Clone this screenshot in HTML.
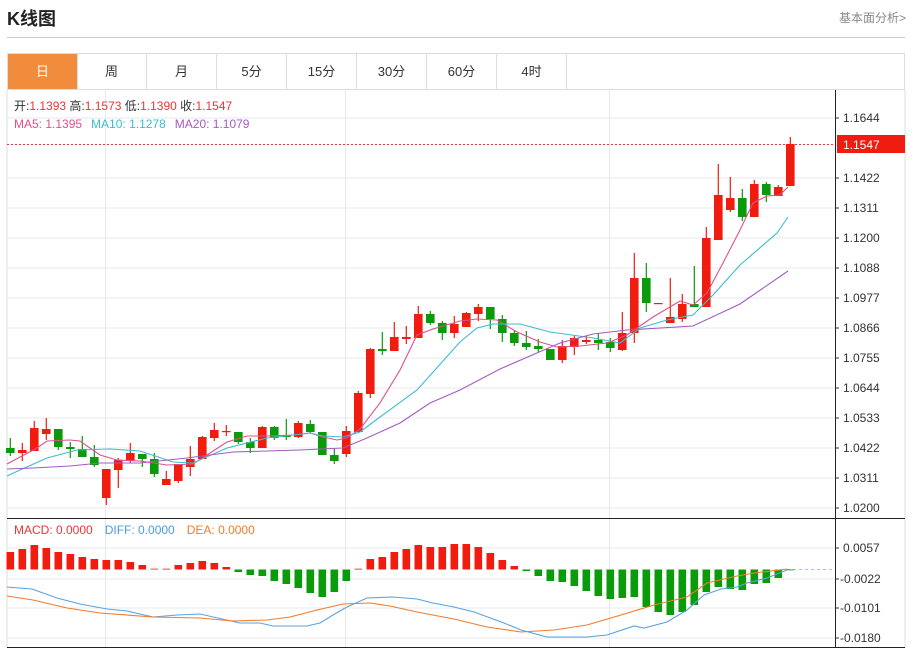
<!DOCTYPE html>
<html><head><meta charset="utf-8">
<style>
*{margin:0;padding:0;box-sizing:border-box}
body{width:914px;height:649px;background:#fff;font-family:"Liberation Sans","Noto Sans CJK SC",sans-serif;position:relative;overflow:hidden}
.t{position:absolute;left:7px;top:5px;font-size:18px;font-weight:bold;color:#222}
.more{position:absolute;right:8px;top:9px;font-size:12px;color:#888}
.hr{position:absolute;left:7px;top:37px;width:898px;height:1px;background:#ccc}
.tabs{position:absolute;left:7px;top:53px;width:898px;height:37px;border:1px solid #ddd;border-bottom:1px solid #ddd}
.tab{position:absolute;top:0;height:35px;width:70px;border-right:1px solid #ddd;text-align:center;line-height:35px;font-size:13px;color:#333}
.tab.on{background:#f08c3c;color:#fff}
svg{position:absolute;left:0;top:0}
</style></head><body>
<div class="t">K线图</div>
<div class="more">基本面分析&gt;</div>
<div class="hr"></div>
<div class="tabs">
<div class="tab on" style="left:0">日</div>
<div class="tab" style="left:69px">周</div>
<div class="tab" style="left:139px">月</div>
<div class="tab" style="left:209px">5分</div>
<div class="tab" style="left:279px">15分</div>
<div class="tab" style="left:349px">30分</div>
<div class="tab" style="left:419px">60分</div>
<div class="tab" style="left:489px">4时</div>
</div>
<svg id="s" width="914" height="649" xmlns="http://www.w3.org/2000/svg" font-family="Liberation Sans, sans-serif">
<g stroke="#e6eaee" stroke-width="1">
<line x1="7" x2="835" y1="118" y2="118"/><line x1="7" x2="835" y1="178" y2="178"/><line x1="7" x2="835" y1="208" y2="208"/><line x1="7" x2="835" y1="238" y2="238"/><line x1="7" x2="835" y1="268" y2="268"/><line x1="7" x2="835" y1="298" y2="298"/><line x1="7" x2="835" y1="328" y2="328"/><line x1="7" x2="835" y1="358" y2="358"/><line x1="7" x2="835" y1="388" y2="388"/><line x1="7" x2="835" y1="418" y2="418"/><line x1="7" x2="835" y1="448" y2="448"/><line x1="7" x2="835" y1="478" y2="478"/><line x1="7" x2="835" y1="508" y2="508"/>
<line x1="7" x2="835" y1="548" y2="548"/><line x1="7" x2="835" y1="579" y2="579"/><line x1="7" x2="835" y1="608" y2="608"/><line x1="7" x2="835" y1="638" y2="638"/>
<line x1="105.5" x2="105.5" y1="90" y2="648"/><line x1="345.5" x2="345.5" y1="90" y2="648"/><line x1="609.5" x2="609.5" y1="90" y2="648"/>
</g>
<line x1="7" x2="7" y1="90" y2="648" stroke="#ddd"/>
<line x1="905" x2="905" y1="90" y2="648" stroke="#ddd"/>
<line x1="7" x2="905" y1="518.5" y2="518.5" stroke="#222"/>
<line x1="7" x2="905" y1="647.5" y2="647.5" stroke="#222"/>
<line x1="835.5" x2="835.5" y1="90" y2="648" stroke="#222"/>
<line x1="7" x2="835" y1="144.5" y2="144.5" stroke="#e33" stroke-dasharray="2,2"/>
<line x1="787" x2="835" y1="569.5" y2="569.5" stroke="#9cc8e8" stroke-dasharray="3,3"/>
<g id="c"></g>
<g font-size="12" fill="#333">
<text x="843" y="122">1.1644</text><text x="843" y="182">1.1422</text><text x="843" y="212">1.1311</text><text x="843" y="242">1.1200</text><text x="843" y="272">1.1088</text><text x="843" y="302">1.0977</text><text x="843" y="332">1.0866</text><text x="843" y="362">1.0755</text><text x="843" y="392">1.0644</text><text x="843" y="422">1.0533</text><text x="843" y="452">1.0422</text><text x="843" y="482">1.0311</text><text x="843" y="512">1.0200</text>
<text x="843" y="552">0.0057</text><text x="840" y="583">-0.0022</text><text x="840" y="612">-0.0101</text><text x="840" y="642">-0.0180</text>
</g>
<g stroke="#333"><line x1="835" x2="839" y1="118" y2="118"/><line x1="835" x2="839" y1="178" y2="178"/><line x1="835" x2="839" y1="208" y2="208"/><line x1="835" x2="839" y1="238" y2="238"/><line x1="835" x2="839" y1="268" y2="268"/><line x1="835" x2="839" y1="298" y2="298"/><line x1="835" x2="839" y1="328" y2="328"/><line x1="835" x2="839" y1="358" y2="358"/><line x1="835" x2="839" y1="388" y2="388"/><line x1="835" x2="839" y1="418" y2="418"/><line x1="835" x2="839" y1="448" y2="448"/><line x1="835" x2="839" y1="478" y2="478"/><line x1="835" x2="839" y1="508" y2="508"/><line x1="835" x2="839" y1="548" y2="548"/><line x1="835" x2="839" y1="579" y2="579"/><line x1="835" x2="839" y1="608" y2="608"/><line x1="835" x2="839" y1="638" y2="638"/></g>
<rect x="837" y="135" width="68" height="18" fill="#f01c10"/>
<text x="843" y="149" font-size="12" fill="#fff">1.1547</text>
<g font-size="12">
<text x="14" y="110" fill="#333">开:<tspan fill="#e33">1.1393</tspan>  高:<tspan fill="#e33">1.1573</tspan>  低:<tspan fill="#e33">1.1390</tspan>  收:<tspan fill="#e33">1.1547</tspan></text>
<text x="14" y="128"><tspan fill="#e0508a">MA5: 1.1395</tspan><tspan fill="#3cbcd0" dx="9">MA10: 1.1278</tspan><tspan fill="#a45cc0" dx="9">MA20: 1.1079</tspan></text>
<text x="14" y="534"><tspan fill="#e33">MACD: 0.0000</tspan><tspan fill="#4a9be0" dx="12">DIFF: 0.0000</tspan><tspan fill="#f07c2c" dx="12">DEA: 0.0000</tspan></text>
</g>
</svg>
<script>
var K=[[448,453,438,456,'g'],[450,453,443,461,'r'],[428,451,421,451,'r'],[429,434,418,440,'r'],[429,447,429,450,'g'],[447,449,442,458,'g'],[449,457,436,457,'g'],[457,465,445,467,'g'],[469,498,469,505,'r'],[460,470,458,488,'r'],[453,461,443,463,'r'],[454,459,454,467,'g'],[459,474,453,477,'g'],[479,485,471,485,'r'],[464,481,464,483,'r'],[459,467,446,476,'r'],[437,459,436,459,'r'],[430,438,423,441,'r'],[431,432,425,436,'r'],[432,442,432,444,'g'],[442,448,438,453,'g'],[427,448,426,448,'r'],[427,438,426,440,'g'],[435,437,419,440,'g'],[423,437,421,438,'r'],[424,432,420,433,'g'],[432,455,432,455,'g'],[455,461,449,464,'g'],[431,454,426,457,'r'],[393,432,391,432,'r'],[349,394,348,398,'r'],[349,351,332,355,'g'],[337,351,322,351,'r'],[337,339,326,344,'r'],[314,338,306,338,'r'],[314,323,311,325,'g'],[323,333,321,340,'g'],[324,333,316,338,'r'],[313,327,312,327,'r'],[307,314,304,321,'r'],[307,319,307,329,'g'],[319,333,315,342,'g'],[333,343,330,346,'g'],[343,347,331,350,'g'],[346,349,339,352,'g'],[349,360,349,360,'g'],[346,360,340,363,'r'],[338,347,335,355,'r'],[340,342,336,344,'r'],[340,343,333,350,'g'],[342,348,338,352,'g'],[333,350,312,351,'r'],[278,333,253,343,'r'],[278,303,263,312,'g'],[303,304,303,304,'r'],[317,323,278,323,'r'],[304,319,294,322,'r'],[304,307,266,307,'g'],[238,307,227,307,'r'],[195,240,164,240,'r'],[198,210,177,212,'r'],[198,217,189,221,'g'],[184,217,180,217,'r'],[184,195,182,202,'g'],[187,196,185,196,'r'],[144,186,137,186,'r']];
var H=[552,549,545,548,552,554,557,559,560,560,562,565,568.7,568.7,565,563,561,563,567,572,575,576,581,584,588,593,597,592,581,568.7,559,557,552,549,545,547,547,544,544,547,553,560,566,571,576,581,582,586,591,596,599,598,597,607,612,615,612,605,592,587,589,590,584,583,578,570];
var R='#f01c10',G='#0a9a0a',z=569.5,s='';
for(var i=0;i<H.length;i++){var x=10.3+12*i,h=H[i];var up=h<z;s+='<rect x="'+(x-3.8)+'" y="'+Math.min(h,z)+'" width="7.6" height="'+Math.max(0.8,Math.abs(h-z))+'" fill="'+(up?R:G)+'"/>';}
for(var i=0;i<K.length;i++){var k=K[i],x=10.3+12*i,c=k[4]=='r'?R:G;s+='<line x1="'+x+'" x2="'+x+'" y1="'+k[2]+'" y2="'+k[3]+'" stroke="'+c+'" stroke-width="1.2"/>';s+='<rect x="'+(x-4.3)+'" y="'+k[0]+'" width="8.6" height="'+Math.max(1.2,k[1]-k[0])+'" fill="'+c+'"/>';}
function pl(p,c){return '<polyline fill="none" stroke="'+c+'" stroke-width="1.1" points="'+p+'"/>';}
s+=pl('7,464 37,448 47,441 70,440 80,441 100,455 117,460 140,461 167,465 193,464 207,455 227,442 247,436 267,436 293,435 310,433 323,437 337,440 347,438 360,429 380,403 400,370 417,335 433,329 460,321 477,319 497,320 517,332 540,342 557,347 580,346 607,343 627,335 653,317 680,301 693,305 707,293 723,263 740,230 753,203 767,196 780,195 788,187','#e0508a');
s+=pl('7,476 20,470 47,458 77,450 110,449 140,451 173,462 193,463 227,448 267,438 310,433 323,436 343,437 360,432 380,417 417,390 460,342 477,328 493,324 520,324 550,332 593,338 620,343 640,328 667,320 693,315 713,295 740,265 777,233 788,217','#3cbcd0');
s+=pl('7,469 33,468 70,466 100,463 140,463 187,458 233,452 300,450 343,448 367,438 400,423 430,403 460,390 500,369 560,343 593,334 627,330 693,326 740,304 788,271','#a45cc0');
s+=pl('7,587 32,589 57,598 80,604 107,609 127,611 153,617 177,615 200,614 240,623 260,623 273,626 307,626 320,623 333,615 347,607 367,598 393,597 417,599 433,603 454,607 474,612 504,623 521,630 547,637 587,637 607,635 634,626 644,628 667,622 687,610 704,595 721,589 737,587 747,583 767,578 787,570','#5aa2e0');
s+=pl('7,596 33,600 67,608 100,613 153,617 200,618 233,621 267,620 290,617 317,610 343,604 370,603 390,606 417,612 454,619 487,627 521,632 554,630 587,625 621,615 654,605 687,597 707,583 737,576 754,573 787,569','#f07c2c');
document.getElementById('c').innerHTML=s;
</script>
</body></html>
